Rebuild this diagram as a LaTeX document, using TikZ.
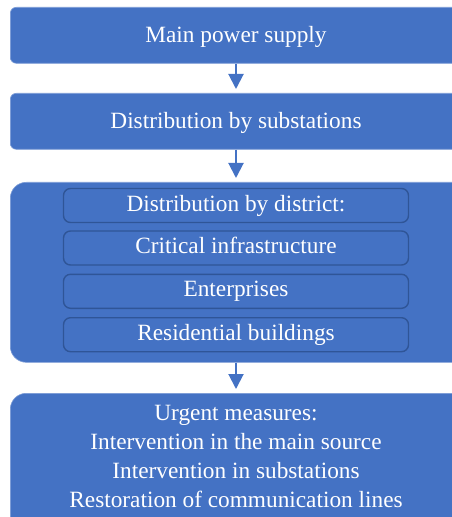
\documentclass[tikz,border=0pt]{standalone}
\usepackage{fontspec}
\setmainfont{Liberation Serif}
\usetikzlibrary{arrows.meta}
\definecolor{boxblue}{HTML}{4472C4}
\definecolor{edgeblue}{HTML}{2F5597}
\begin{document}
\begin{tikzpicture}[x=1bp,y=-1bp,
  stage/.style={fill=boxblue, draw=boxblue!70!white, line width=0.6bp, rounded corners=6bp,
    minimum width=520bp, anchor=north west, inner sep=0pt},
  bigstage/.style={stage, rounded corners=16bp},
  sub/.style={fill=boxblue, draw=edgeblue, line width=1.4bp, rounded corners=7bp,
    minimum width=345bp, minimum height=34bp, inner sep=0pt,
    text height=16bp, text depth=5bp,
    text=white, font=\fontsize{23.3bp}{28bp}\selectfont},
  label/.style={text=white, align=center, inner sep=0pt,
    font=\fontsize{23.3bp}{29bp}\selectfont},
  flow/.style={draw=boxblue, line width=2bp, shorten >=4bp,
    -{Triangle[length=15bp,width=15bp]}}]
\path[use as bounding box, clip] (0,0) rectangle (452,517);

% main stages
\node[stage, minimum height=56bp] (s1) at (10,7) {};
\node[stage, minimum height=56bp] (s2) at (10,93) {};
\node[bigstage, minimum height=180bp] (s3) at (10,182) {};
\node[bigstage, minimum height=160bp] (s4) at (10,393) {};

\node[label, anchor=base] (t1) at (236,42.3) {Main power supply};
\node[label, anchor=base] (t2) at (236,128.5) {Distribution by substations};
% base anchor of a multi-line node sits on its last line
\node[label, anchor=base] (t4) at (236,507)
  {Urgent measures:\\Intervention in the main source\\Intervention in substations\\Restoration of communication lines};

% district breakdown
\node[sub] (d1) at (236,205.5) {Distribution by district:};
\node[sub] (d2) at (236,248) {Critical infrastructure};
\node[sub] (d3) at (236,291.3) {Enterprises};
\node[sub] (d4) at (236,334.7) {Residential buildings};

% connectors
\draw[flow] (t1 |- s1.south) -- (t1 |- s2.north);
\draw[flow] (t2 |- s2.south) -- (t2 |- s3.north);
\draw[flow] (d4 |- s3.south) -- (t4 |- s4.north);
\end{tikzpicture}
\end{document}
